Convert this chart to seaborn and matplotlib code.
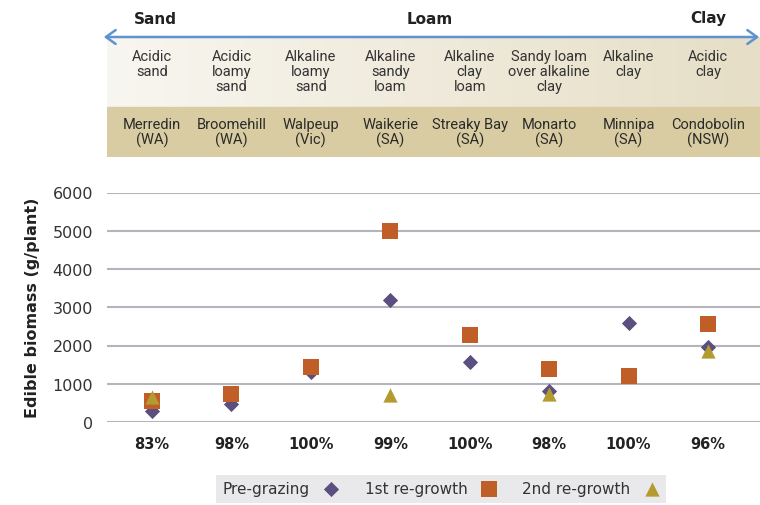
import numpy as np
import pandas as pd
import matplotlib
matplotlib.use("Agg")
import matplotlib.pyplot as plt
import seaborn as sns
from matplotlib.colors import LinearSegmentedColormap
from matplotlib.patches import FancyArrowPatch

# ---------------- data ----------------
pct_labels = ["83%", "98%", "100%", "99%", "100%", "98%", "100%", "96%"]
soil_types = ["Acidic\nsand", "Acidic\nloamy\nsand", "Alkaline\nloamy\nsand", "Alkaline\nsandy\nloam",
              "Alkaline\nclay\nloam", "Sandy loam\nover alkaline\nclay", "Alkaline\nclay", "Acidic\nclay"]
sites = ["Merredin\n(WA)", "Broomehill\n(WA)", "Walpeup\n(Vic)", "Waikerie\n(SA)",
         "Streaky Bay\n(SA)", "Monarto\n(SA)", "Minnipa\n(SA)", "Condobolin\n(NSW)"]
texture_labels = ["Sand", "Loam", "Clay"]
pre_grazing = [300, 480, 1300, 3200, 1560, 800, 2600, 1950]
regrowth_1 = [560, 730, 1450, 5000, 2280, 1390, 1210, 2550]
regrowth_2 = [660, np.nan, np.nan, 700, np.nan, 740, np.nan, 1860]
series_names = ["Pre-grazing", "1st re-growth", "2nd re-growth"]

rows = []
for name, vals in zip(series_names, [pre_grazing, regrowth_1, regrowth_2]):
    for i, v in enumerate(vals):
        if not np.isnan(v):
            rows.append({"pos": i, "value": v, "series": name})
df = pd.DataFrame(rows)

sns.set_theme(style="white")
plt.rcParams['font.family'] = ['DejaVu Sans']
narrow = ['Roboto', 'DejaVu Sans']

W, H = 760, 506
fig = plt.figure(figsize=(W / 100, H / 100), dpi=100)

def fx(px):
    return px / W

def fy(py):
    return 1 - py / H

x_left, x_right = 107, 760
xlim = (-(152 - 107) / 79.4, 7 + (760 - 708) / 79.4)

# ---------------- main axes ----------------
ax = fig.add_axes([fx(x_left), fy(423), fx(x_right - x_left), (423 - 193.5) / H])
colors = {"Pre-grazing": "#5b4f7f", "1st re-growth": "#bf5f27", "2nd re-growth": "#b39b30"}
markers = {"Pre-grazing": "D", "1st re-growth": "s", "2nd re-growth": "^"}
sizes_map = {"Pre-grazing": 60, "1st re-growth": 138, "2nd re-growth": 105}
for name in series_names:
    sub = df[df.series == name]
    sns.scatterplot(data=sub, x="pos", y="value", ax=ax, color=colors[name],
                    marker=markers[name], s=sizes_map[name], linewidth=0,
                    label=name, zorder=3, clip_on=False)

ax.set_xlim(*xlim)
ax.set_ylim(0, 6000)
ax.set_yticks(range(0, 6001, 1000))
ax.set_yticklabels([str(v) for v in range(0, 6001, 1000)], fontsize=11.5, color="#333333")
ax.set_xticks(range(len(pct_labels)))
ax.set_xticklabels(pct_labels, fontsize=10.5, fontweight="bold", color="#222222")
ax.tick_params(axis="both", length=0)
ax.tick_params(axis="x", pad=10)
ax.tick_params(axis="y", pad=10)
for s in ax.spines.values():
    s.set_visible(False)
ax.grid(axis="y", color="#b4b4bc", linewidth=1.5)
ax.set_axisbelow(True)
ax.set_xlabel("")
ax.set_ylabel("Edible biomass (g/plant)", fontsize=11.5, fontweight="bold", color="#222222", labelpad=9)
ax.get_legend().remove()

handles, labels = ax.get_legend_handles_labels()
leg = fig.legend(handles, labels, loc="center", bbox_to_anchor=(fx(441), fy(490)), ncol=3,
                 markerfirst=False, frameon=True, fancybox=False, fontsize=11,
                 handletextpad=0.9, columnspacing=1.7, borderpad=0.4, handlelength=1.0)
leg.get_frame().set_facecolor("#e4e4e7")
leg.get_frame().set_edgecolor("none")
for t in leg.get_texts():
    t.set_color("#333333")

# ---------------- header ----------------
hax = fig.add_axes([fx(x_left), fy(158), fx(x_right - x_left), (158 - 38) / H])
grad = np.linspace(0, 1, 256).reshape(1, -1)
cmap = LinearSegmentedColormap.from_list("band", ["#f8f6f0", "#e6dec6"])
hax.imshow(grad, extent=(xlim[0], xlim[1], 108, 38), aspect="auto", cmap=cmap, zorder=0)
hax.axhspan(108, 158, color="#d9cca2", zorder=0)
hax.set_xlim(*xlim)
hax.set_ylim(158, 38)
hax.axis("off")
for i, (st, site) in enumerate(zip(soil_types, sites)):
    hax.text(i, 50, st, ha="center", va="top", fontsize=10.5, color="#333333",
             family=narrow, linespacing=1.08)
    hax.text(i, 133, site, ha="center", va="center", fontsize=10.5, color="#2a2a2a",
             family=narrow, linespacing=1.08)

# arrow + texture labels
arrow_y = fy(38)
fig.add_artist(FancyArrowPatch((fx(101), arrow_y), (fx(762), arrow_y),
                               arrowstyle="<->,head_length=7,head_width=5",
                               color="#5f93cf", lw=1.8, transform=fig.transFigure))
for txt, px in zip(texture_labels, [155, 430, 708]):
    fig.text(fx(px), fy(19), txt, ha="center", va="center", fontsize=11, fontweight="bold",
             color="#222222")

fig.savefig("out.png", dpi=100)
